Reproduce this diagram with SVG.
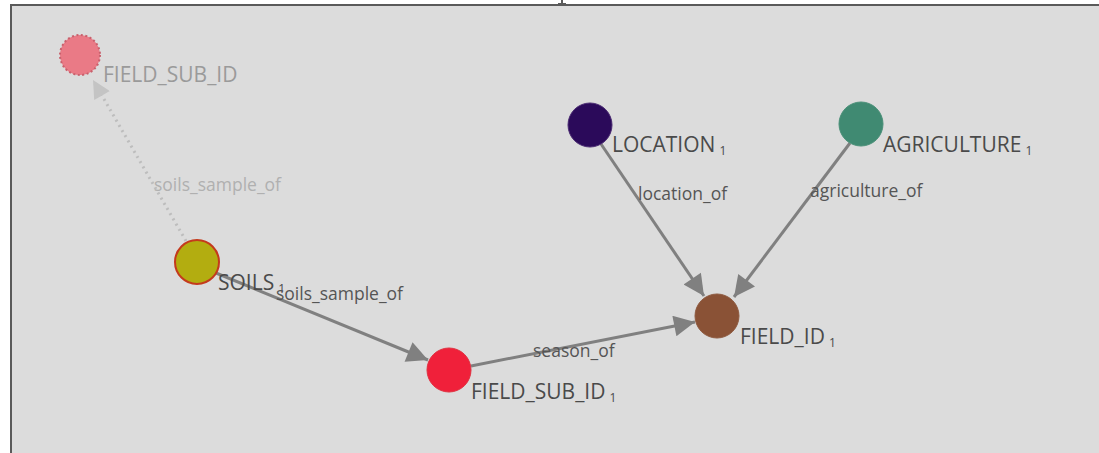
<svg xmlns="http://www.w3.org/2000/svg" width="1099" height="453" viewBox="0 0 1099 453">
<style>
.node-label{font-family:"Open Sans","Noto Sans",sans-serif;font-size:21px;fill:#4a4a4a}
.sub{font-size:12px}
.edge-label{font-family:"Open Sans","Noto Sans",sans-serif;font-size:17.5px;fill:#555}
.edge{stroke:#808080;stroke-width:3;fill:none}
.ghost-edge{stroke:#bdbdbd;stroke-width:3;stroke-dasharray:2 4;fill:none}
</style>
<defs>
<marker id="arrow" viewBox="0 0 10 10" refX="10" refY="5" markerWidth="8" markerHeight="7" markerUnits="strokeWidth" orient="auto">
<path d="M0,0 L10,5 L0,10 z" fill="#808080"/>
</marker>
<marker id="arrow-ghost" viewBox="0 0 10 10" refX="10" refY="5" markerWidth="7" markerHeight="6" markerUnits="strokeWidth" orient="auto">
<path d="M0,0 L10,5 L0,10 z" fill="#c4c4c4"/>
</marker>
</defs>
<rect x="0" y="0" width="1099" height="453" fill="#ffffff"/>
<rect x="11" y="5" width="1095" height="460" fill="#dcdcdc" stroke="#5a5a5a" stroke-width="2"/>
<rect x="561" y="0" width="2" height="5" fill="#5a5a5a"/>
<rect x="558" y="3" width="8" height="2" fill="#5a5a5a"/>
<g id="connectors">
<line class="ghost-edge" x1="186" y1="241" x2="93" y2="80" marker-end="url(#arrow-ghost)"/>
<text class="edge-label" x="154" y="191" style="fill:#b0b0b0">soils_sample_of</text>
<line class="edge" x1="216" y1="273" x2="428" y2="360" marker-end="url(#arrow)"/>
<text class="edge-label" x="276" y="300">soils_sample_of</text>
<line class="edge" x1="471" y1="366" x2="695" y2="322" marker-end="url(#arrow)"/>
<text class="edge-label" x="533" y="357">season_of</text>
<line class="edge" x1="601" y1="144" x2="704" y2="296" marker-end="url(#arrow)"/>
<text class="edge-label" x="638" y="200">location_of</text>
<line class="edge" x1="850" y1="143" x2="734" y2="297" marker-end="url(#arrow)"/>
<text class="edge-label" x="810" y="197">agriculture_of</text>
</g>
<g id="node-field-sub-id-ghost">
<circle cx="80" cy="55" r="20" fill="#ea7a86" stroke="#c8606c" stroke-width="2" stroke-dasharray="2 2.5"/>
<text class="node-label" x="103" y="82" style="fill:#9a9a9a">FIELD_SUB_ID</text>
</g>
<g id="node-soils">
<circle cx="197" cy="262" r="22" fill="#b3ad10" stroke="#c43a1c" stroke-width="2"/>
<text class="node-label" x="218" y="290">SOILS<tspan class="sub" dx="4" dy="3">1</tspan></text>
</g>
<g id="node-field-sub-id-1">
<circle cx="449" cy="370" r="22" fill="#f0203a" stroke="#e0303f" stroke-width="1"/>
<text class="node-label" x="471" y="399">FIELD_SUB_ID<tspan class="sub" dx="4" dy="3">1</tspan></text>
</g>
<g id="node-location">
<circle cx="590" cy="125" r="22" fill="#2b0a5a" stroke="#4a2a72" stroke-width="1"/>
<text class="node-label" x="612" y="152">LOCATION<tspan class="sub" dx="4" dy="3">1</tspan></text>
</g>
<g id="node-agriculture">
<circle cx="861" cy="124" r="22" fill="#408a72" stroke="#4a9078" stroke-width="1"/>
<text class="node-label" x="883" y="152">AGRICULTURE<tspan class="sub" dx="4" dy="3">1</tspan></text>
</g>
<g id="node-field-id">
<circle cx="717" cy="316" r="22" fill="#8a5236" stroke="#8e5a40" stroke-width="1"/>
<text class="node-label" x="740" y="344">FIELD_ID<tspan class="sub" dx="4" dy="3">1</tspan></text>
</g>
</svg>
